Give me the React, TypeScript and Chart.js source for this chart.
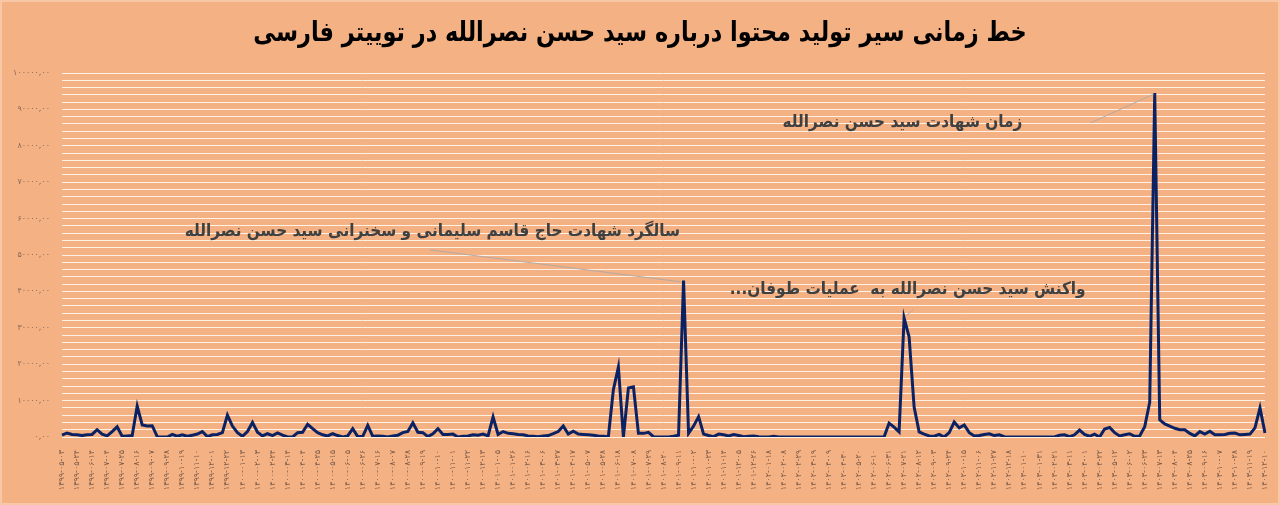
import React, { useEffect, useRef } from "react";
import { Chart, registerables } from "chart.js";

Chart.register(...registerables);

const TITLE = "خط زمانی سیر تولید محتوا درباره سید حسن نصرالله در توییتر فارسی";

// Axis date labels (one every 3 weekly points)
const DATE_LABELS = [
  "۱۳۹۹-۰۵-۰۳", "۱۳۹۹-۰۵-۲۴", "۱۳۹۹-۰۶-۱۴", "۱۳۹۹-۰۷-۰۴", "۱۳۹۹-۰۷-۲۵", "۱۳۹۹-۰۸-۱۶",
  "۱۳۹۹-۰۹-۰۷", "۱۳۹۹-۰۹-۲۸", "۱۳۹۹-۱۰-۱۹", "۱۳۹۹-۱۱-۱۰", "۱۳۹۹-۱۲-۰۱", "۱۳۹۹-۱۲-۲۲",
  "۱۴۰۰-۰۱-۱۳", "۱۴۰۰-۰۲-۰۳", "۱۴۰۰-۰۲-۲۴", "۱۴۰۰-۰۳-۱۴", "۱۴۰۰-۰۴-۰۴", "۱۴۰۰-۰۴-۲۵",
  "۱۴۰۰-۰۵-۱۵", "۱۴۰۰-۰۶-۰۵", "۱۴۰۰-۰۶-۲۶", "۱۴۰۰-۰۷-۱۶", "۱۴۰۰-۰۸-۰۷", "۱۴۰۰-۰۸-۲۸",
  "۱۴۰۰-۰۹-۱۹", "۱۴۰۰-۱۰-۱۰", "۱۴۰۰-۱۱-۰۱", "۱۴۰۰-۱۱-۲۲", "۱۴۰۰-۱۲-۱۳", "۱۴۰۱-۰۱-۰۵",
  "۱۴۰۱-۰۱-۲۶", "۱۴۰۱-۰۲-۱۶", "۱۴۰۱-۰۳-۰۶", "۱۴۰۱-۰۳-۲۷", "۱۴۰۱-۰۴-۱۷", "۱۴۰۱-۰۵-۰۷",
  "۱۴۰۱-۰۵-۲۸", "۱۴۰۱-۰۶-۱۸", "۱۴۰۱-۰۷-۰۸", "۱۴۰۱-۰۷-۲۹", "۱۴۰۱-۰۸-۲۰", "۱۴۰۱-۰۹-۱۱",
  "۱۴۰۱-۱۰-۰۲", "۱۴۰۱-۱۰-۲۳", "۱۴۰۱-۱۱-۱۴", "۱۴۰۱-۱۲-۰۵", "۱۴۰۱-۱۲-۲۶", "۱۴۰۲-۰۱-۱۸",
  "۱۴۰۲-۰۲-۰۸", "۱۴۰۲-۰۲-۲۹", "۱۴۰۲-۰۳-۱۹", "۱۴۰۲-۰۴-۰۹", "۱۴۰۲-۰۴-۳۰", "۱۴۰۲-۰۵-۲۰",
  "۱۴۰۲-۰۶-۱۰", "۱۴۰۲-۰۶-۳۱", "۱۴۰۲-۰۷-۲۱", "۱۴۰۲-۰۸-۱۲", "۱۴۰۲-۰۹-۰۳", "۱۴۰۲-۰۹-۲۴",
  "۱۴۰۲-۱۰-۱۵", "۱۴۰۲-۱۱-۰۶", "۱۴۰۲-۱۱-۲۷", "۱۴۰۲-۱۲-۱۸", "۱۴۰۳-۰۱-۱۰", "۱۴۰۳-۰۱-۳۱",
  "۱۴۰۳-۰۲-۲۱", "۱۴۰۳-۰۳-۱۱", "۱۴۰۳-۰۴-۰۱", "۱۴۰۳-۰۴-۲۲", "۱۴۰۳-۰۵-۱۲", "۱۴۰۳-۰۶-۰۲",
  "۱۴۰۳-۰۶-۲۳", "۱۴۰۳-۰۷-۱۳", "۱۴۰۳-۰۸-۰۴", "۱۴۰۳-۰۸-۲۵", "۱۴۰۳-۰۹-۱۶", "۱۴۰۳-۱۰-۰۷",
  "۱۴۰۳-۱۰-۲۸", "۱۴۰۳-۱۱-۱۹", "۱۴۰۳-۱۲-۱۰",
];

const LABEL_EVERY = 3;

// Weekly tweet counts
const VALUES = [
  500, 1100, 700, 600, 400, 600, 700, 2000, 800, 300,
  1500, 2800, 200, 300, 400, 8500, 3300, 3000, 3100, 100,
  0, 0, 700, 200, 600, 200, 500, 800, 1500, 100,
  600, 700, 1200, 6000, 3000, 1200, 200, 1500, 4000, 1300,
  300, 900, 400, 1100, 500, 0, 0, 1200, 1300, 3500,
  2300, 1200, 600, 300, 900, 400, 0, 300, 2300, 100,
  200, 3200, 200, 300, 200, 0, 300, 500, 1200, 1500,
  3900, 1300, 1200, 100, 900, 2300, 700, 700, 800, 0,
  200, 300, 600, 500, 800, 300, 5500, 700, 1500, 1000,
  900, 700, 600, 300, 200, 100, 300, 400, 900, 1500,
  3000, 800, 1600, 800, 700, 600, 500, 300, 200, 100,
  13000, 19200, 0, 13500, 13800, 1000, 1000, 1300, 100, 0,
  0, 0, 200, 500, 43000, 1000, 3000, 5600, 800, 400,
  100, 800, 600, 300, 700, 400, 100, 200, 300, 100,
  0, 0, 200, 0, 0, 0, 0, 0, 0, 0,
  0, 0, 0, 0, 0, 0, 0, 0, 0, 0,
  0, 0, 0, 0, 0, 3800, 2700, 1400, 32700, 27500,
  8200, 1400, 800, 300, 200, 700, 0, 1200, 4100, 2500,
  3300, 1200, 300, 400, 700, 900, 400, 600, 100, 0,
  0, 0, 0, 0, 0, 0, 0, 0, 0, 500,
  600, 100, 600, 1900, 700, 200, 800, 0, 2200, 2600,
  1200, 300, 600, 900, 200, 300, 2800, 9500, 94500, 4700,
  3600, 3000, 2400, 2000, 2000, 1000, 300, 1500, 800, 1600,
  600, 600, 700, 1000, 1100, 600, 700, 800, 2500, 8000,
  1100,
];

const Y_MAX = 100000;
const Y_STEP = 2000;
const Y_LABEL_STEP = 10000;

// Annotation texts, anchored in data space (index, value)
const ANNOTATIONS = [
  {
    text: "زمان شهادت سید حسن نصرالله",
    textAt: [191.6, 86300],
    lineFrom: [205.2, 86300],
    lineTo: [217.8, 94200],
  },
  {
    text: "سالگرد شهادت حاج قاسم سلیمانی و سخنرانی سید حسن نصرالله",
    textAt: [123.3, 56300],
    lineFrom: [73.4, 51400],
    lineTo: [123.6, 42600],
  },
  {
    text: "واکنش سید حسن نصرالله به  عملیات طوفان...",
    textAt: [204.2, 40400],
    lineFrom: [168.3, 33200],
    lineTo: [169.8, 35000],
  },
];

const FA_DIGITS = "۰۱۲۳۴۵۶۷۸۹";
const toFa = (s: string) => s.replace(/\d/g, (d) => FA_DIGITS[+d]);

const BG = "#F4B183";
const FONT = "'DejaVu Sans', sans-serif";

export default function App() {
  const ref = useRef<HTMLCanvasElement | null>(null);

  useEffect(() => {
    document.body.style.margin = "0";
    const canvas = ref.current;
    if (!canvas) return;

    const categories = VALUES.map((_, i) =>
      i % LABEL_EVERY === 0 ? DATE_LABELS[i / LABEL_EVERY] ?? "" : ""
    );

    const bgPlugin = {
      id: "bg",
      beforeDraw(chart: any) {
        const c = chart.ctx;
        c.save();
        c.fillStyle = BG;
        c.fillRect(0, 0, chart.width, chart.height);
        c.strokeStyle = "#f7c7a6";
        c.lineWidth = 2;
        c.strokeRect(1, 1, chart.width - 2, chart.height - 2);
        c.restore();
      },
    };

    const titlePlugin = {
      id: "condensedTitle",
      afterDraw(chart: any) {
        const c = chart.ctx;
        c.save();
        c.font = `bold 27px ${FONT}`;
        c.fillStyle = "#000000";
        c.textAlign = "center";
        c.textBaseline = "middle";
        c.translate(chart.width / 2, 34);
        c.scale(0.83, 1);
        c.fillText(TITLE, 0, 0);
        c.restore();
      },
    };

    const annPlugin = {
      id: "ann",
      afterDatasetsDraw(chart: any) {
        const c = chart.ctx;
        const xs = chart.scales.x;
        const ys = chart.scales.y;
        c.save();
        ANNOTATIONS.forEach((a) => {
          c.strokeStyle = "#b5aaa4";
          c.lineWidth = 1;
          c.beginPath();
          c.moveTo(xs.getPixelForValue(a.lineFrom[0]), ys.getPixelForValue(a.lineFrom[1]));
          c.lineTo(xs.getPixelForValue(a.lineTo[0]), ys.getPixelForValue(a.lineTo[1]));
          c.stroke();
          c.save();
          c.font = `bold 17px ${FONT}`;
          c.fillStyle = "#404040";
          c.direction = "rtl";
          c.textAlign = "right";
          c.textBaseline = "middle";
          c.translate(xs.getPixelForValue(a.textAt[0]), ys.getPixelForValue(a.textAt[1]));
          c.scale(0.9, 1);
          c.fillText(a.text, 0, 0);
          c.restore();
        });
        c.restore();
      },
    };

    const chart = new Chart(canvas, {
      type: "line",
      data: {
        labels: categories,
        datasets: [
          {
            data: VALUES,
            borderColor: "#0a2263",
            borderWidth: 3,
            pointRadius: 0,
            pointHoverRadius: 0,
            tension: 0,
            fill: false,
          },
        ],
      },
      options: {
        responsive: false,
        animation: false,
        layout: { padding: { left: 0, right: 15, top: 73, bottom: 0 } },
        plugins: {
          legend: { display: false },
          tooltip: { enabled: false },
          title: { display: false },
        },
        scales: {
          x: {
            type: "category",
            offset: false,
            grid: { display: false },
            border: { display: false },
            afterFit: (s: any) => {
              s.height = 68;
            },
            ticks: {
              autoSkip: false,
              minRotation: 90,
              maxRotation: 90,
              padding: 5,
              color: "#7a5a48",
              font: { family: FONT, size: 8 },
            },
          },
          y: {
            min: 0,
            max: Y_MAX,
            afterFit: (s: any) => {
              s.width = 62;
            },
            border: { display: false },
            grid: {
              drawTicks: false,
              lineWidth: 1,
              color: "#fdf1e4",
            },
            ticks: {
              stepSize: Y_STEP,
              maxTicksLimit: 200,
              autoSkip: false,
              padding: 12,
              color: "#8a6a58",
              font: { family: FONT, size: 8 },
              callback: (v: any) =>
                Number(v) % Y_LABEL_STEP === 0 ? toFa(String(v)) + ",۰۰" : "",
            },
          },
        },
      },
      plugins: [bgPlugin, annPlugin, titlePlugin],
    });

    return () => chart.destroy();
  }, []);

  return (
    <div style={{ width: 1280, height: 505 }}>
      <canvas ref={ref} width={1280} height={505} style={{ display: "block" }} />
    </div>
  );
}
